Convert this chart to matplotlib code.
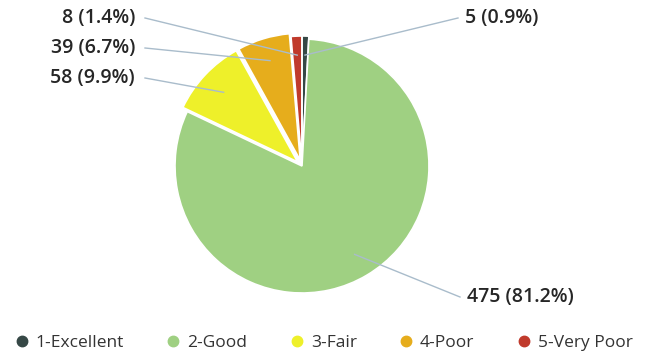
import math
import matplotlib.pyplot as plt
from matplotlib.lines import Line2D

plt.rcParams['font.family'] = ['Open Sans', 'DejaVu Sans']

# data
categories = ['1-Excellent', '2-Good', '3-Fair', '4-Poor', '5-Very Poor']
counts = [5, 475, 58, 39, 8]
colors = ['#364846', '#9fd082', '#eef02a', '#e6ad1c', '#c03a2c']


def main():
    fig = plt.figure(figsize=(6.51, 3.6), dpi=100)
    ax = fig.add_axes([0, 0, 1, 1])

    center = (302, 194)
    radius = 127
    explode = [3, 0, 6, 6, 3]
    wedges, _ = ax.pie(counts, colors=colors, startangle=90, counterclock=False,
                       center=center, radius=radius, explode=explode,
                       wedgeprops=dict(edgecolor='white', linewidth=1.2))
    ax.set_xlim(0, 651)
    ax.set_ylim(0, 360)
    ax.set_aspect('equal')
    ax.axis('off')

    total = sum(counts)
    labels = ['%d (%.1f%%)' % (c, 100 * c / total) for c in counts]

    # label positions (pixel coords) and anchor radius fraction
    spots = [(465, 342, 'left', 0.85), (467, 63, 'left', 0.81),
             (135, 282, 'right', 0.8), (135, 312, 'right', 0.82),
             (135, 342, 'right', 0.85)]
    for w, lab, (tx, ty, ha, frac) in zip(wedges, labels, spots):
        ang = math.radians((w.theta1 + w.theta2) / 2)
        cx, cy = w.center
        px = cx + frac * w.r * math.cos(ang)
        py = cy + frac * w.r * math.sin(ang)
        lx = tx - 7 if ha == 'left' else tx + 10
        ax.plot([lx, px], [ty, py], color='#a9bccb', lw=1)
        ax.text(tx, ty, lab, ha=ha, va='center', fontsize=14,
                fontweight='semibold', color='#262626')

    handles = [Line2D([], [], marker='o', ls='', markersize=7.5,
                      markerfacecolor=c, markeredgecolor=c) for c in colors]
    ax.legend(handles, categories, loc='center left', bbox_to_anchor=(0.02, 0.047),
              ncol=5, frameon=False, fontsize=12.5, handletextpad=0.3,
              columnspacing=2.35, handlelength=1, borderpad=0, borderaxespad=0,
              labelcolor='#333333')

    fig.savefig('out.png', dpi=100)


if __name__ == '__main__':
    main()
